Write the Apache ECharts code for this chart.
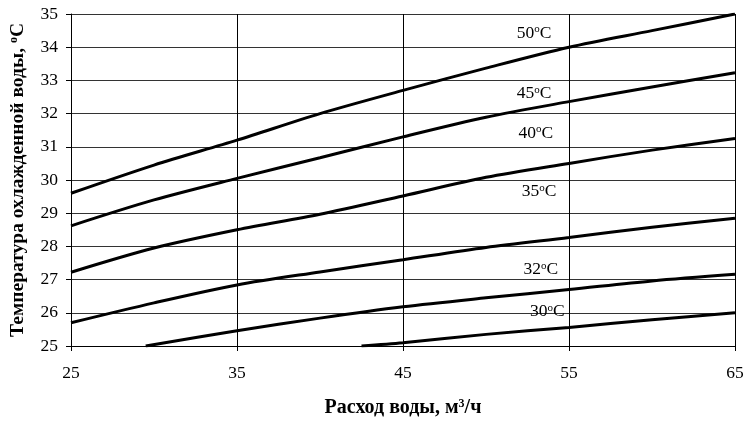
<!DOCTYPE html>
<html><head><meta charset="utf-8">
<script src="https://cdn.jsdelivr.net/npm/echarts@6/dist/echarts.min.js"></script>
<style>html,body{margin:0;padding:0;background:#fff}#c{width:747px;height:424px}</style>
</head><body><div id="c"></div>
<script>
var xTicks = [25, 35, 45, 55, 65];
var yTicks = [25, 26, 27, 28, 29, 30, 31, 32, 33, 34, 35];
var seriesNames = ['50', '45', '40', '35', '32', '30'];
var x50 = [25, 30, 35, 40, 45, 50, 55, 60, 65];
var y50 = [29.6, 30.45, 31.2, 32.0, 32.7, 33.37, 34.0, 34.5, 35.0];
var x45 = [25, 30, 35, 40, 45, 50, 55, 60, 65];
var y45 = [28.62, 29.4, 30.05, 30.67, 31.3, 31.89, 32.36, 32.8, 33.23];
var x40 = [25, 30, 35, 40, 45, 50, 55, 60, 65];
var y40 = [27.22, 27.95, 28.5, 28.97, 29.52, 30.08, 30.5, 30.9, 31.25];
var x35 = [25, 30, 35, 40, 45, 50, 55, 60, 65];
var y35 = [25.7, 26.3, 26.84, 27.23, 27.6, 27.97, 28.27, 28.58, 28.85];
var x32 = [29.5, 35, 40, 45, 50, 55, 60, 65];
var y32 = [25.0, 25.46, 25.84, 26.18, 26.45, 26.7, 26.96, 27.16];
var x30 = [42.5, 45, 50, 55, 60, 65];
var y30 = [25.0, 25.1, 25.35, 25.56, 25.79, 26.0];
// label anchor positions (data coords)
var labelX = [52.9, 52.9, 53.0, 53.2, 53.3, 53.7];
var labelY = [34.43, 32.6, 31.4, 29.65, 27.3, 26.03];

var xs = [x50, x45, x40, x35, x32, x30];
var ys = [y50, y45, y40, y35, y32, y30];
function pairs(a, b) { return a.map(function (v, i) { return [v, b[i]]; }); }

var FONT = '"Liberation Serif", "Times New Roman", serif';
var series = seriesNames.map(function (n, k) {
  return {
    type: 'line', name: n, data: pairs(xs[k], ys[k]), smooth: 0.3,
    symbol: 'none', lineStyle: { color: '#000', width: 3 }, z: 5,
    markPoint: {
      symbol: 'circle', symbolSize: 10, silent: true,
      itemStyle: { color: 'rgba(0,0,0,0)' },
      label: {
        show: true, position: 'inside', formatter: n + '{s|o}C', color: '#000',
        fontFamily: FONT, fontSize: 17.5,
        rich: { s: { fontSize: 11, verticalAlign: 'top', padding: [0, 0, 8, 0], fontFamily: FONT, color: '#000' } }
      },
      data: [{ coord: [labelX[k], labelY[k]] }]
    }
  };
});

var chart = echarts.init(document.getElementById('c'));
chart.setOption({
  animation: false,
  grid: { left: 68, right: 12, top: 14, bottom: 78, show: false },
  xAxis: {
    type: 'value', min: 25, max: 65, interval: 10,
    axisLine: { show: true, lineStyle: { color: '#000', width: 1 } },
    axisTick: { show: true, length: 5, lineStyle: { color: '#000' } },
    axisLabel: { color: '#000', fontFamily: FONT, fontSize: 17.5, margin: 18,
      formatter: function (v) { return xTicks.indexOf(v) >= 0 ? String(v) : ''; } },
    splitLine: { show: true, lineStyle: { color: '#000', width: 1 } },
    name: 'Расход воды, м{s|3}/ч', nameLocation: 'middle', nameGap: 52,
    nameTextStyle: { color: '#000', fontFamily: FONT, fontSize: 20, fontWeight: 'bold',
      rich: { s: { fontSize: 12, fontWeight: 'bold', verticalAlign: 'top', padding: [0, 0, 8, 0], fontFamily: FONT } } }
  },
  yAxis: {
    type: 'value', min: 25, max: 35, interval: 1,
    axisLine: { show: true, lineStyle: { color: '#000', width: 1 } },
    axisTick: { show: true, length: 5, lineStyle: { color: '#000' } },
    axisLabel: { color: '#000', fontFamily: FONT, fontSize: 17.5, margin: 13,
      formatter: function (v) { return yTicks.indexOf(v) >= 0 ? String(v) : ''; } },
    splitLine: { show: true, lineStyle: { color: '#333', width: 1 } },
    name: 'Температура охлажденной воды, {s|o}C', nameLocation: 'middle', nameGap: 43, nameRotate: 90,
    nameTextStyle: { color: '#000', fontFamily: FONT, fontSize: 19.5, fontWeight: 'bold',
      rich: { s: { fontSize: 12, fontWeight: 'bold', verticalAlign: 'top', padding: [0, 0, 8, 0], fontFamily: FONT } } }
  },
  series: series
});
</script></body></html>
